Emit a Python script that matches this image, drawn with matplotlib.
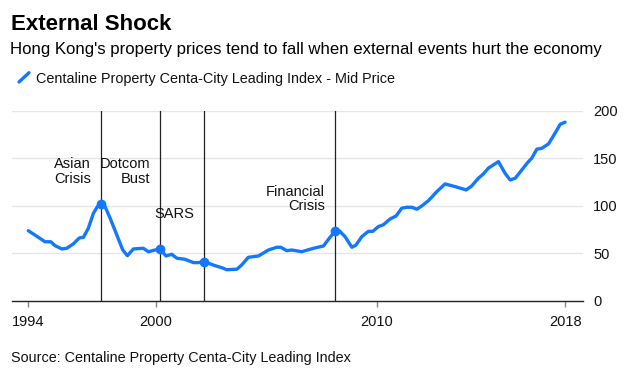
import numpy as np
import matplotlib.pyplot as plt
from matplotlib.lines import Line2D

# Centa-City Leading Index
years = [1994.21, 1994.97, 1995.23, 1995.42, 1995.73, 1995.95, 1996.25, 1996.52,
         1996.71, 1996.93, 1997.16, 1997.34, 1997.49, 1997.69, 1997.92, 1998.22,
         1998.49, 1998.70, 1998.97, 1999.42, 1999.65, 1999.95, 2000.18, 2000.45,
         2000.71, 2000.94, 2001.31, 2001.69, 2001.92, 2002.17, 2002.67, 2002.98,
         2003.20, 2003.66, 2003.88, 2004.18, 2004.64, 2005.09, 2005.47, 2005.65,
         2005.92, 2006.15, 2006.60, 2007.13, 2007.58, 2007.88, 2008.11, 2008.31,
         2008.56, 2008.87, 2009.06, 2009.32, 2009.62, 2009.82, 2010.07, 2010.30,
         2010.60, 2010.87, 2011.13, 2011.36, 2011.59, 2011.81, 2012.04, 2012.34,
         2012.72, 2013.09, 2013.55, 2014.05, 2014.30, 2014.60, 2014.83, 2015.05,
         2015.51, 2015.81, 2016.04, 2016.27, 2016.57, 2016.83, 2017.02, 2017.25,
         2017.48, 2017.78, 2018.03, 2018.31, 2018.53]
index = [73.7, 62.0, 62.0, 57.9, 54.4, 55.1, 59.7, 66.0,
         66.7, 76.2, 92.0, 99.0, 102.0, 99.0, 86.8, 69.2,
         53.3, 47.3, 54.4, 55.1, 51.5, 53.3, 54.0, 47.0,
         48.8, 44.6, 43.5, 40.0, 40.0, 41.0, 36.8, 34.6,
         32.5, 33.0, 37.5, 45.6, 47.0, 53.3, 56.2, 56.2,
         52.6, 53.3, 51.5, 55.1, 57.5, 66.7, 73.0, 73.4,
         67.4, 56.2, 58.6, 67.4, 73.0, 73.0, 78.0, 80.0,
         86.0, 89.2, 97.4, 98.4, 98.4, 96.3, 99.8, 105.4,
         114.9, 123.0, 120.2, 116.7, 120.9, 129.0, 133.6, 139.6,
         146.6, 134.3, 127.2, 129.0, 137.8, 145.5, 150.2, 159.7,
         160.7, 165.3, 174.8, 186.0, 188.2]

# events
event_x = [1997.49, 2000.18, 2002.17, 2008.11]
event_labels = ['Asian\nCrisis', 'Dotcom\nBust', 'SARS', 'Financial\nCrisis']
event_label_y = [151, 151, 99, 122]

xtick_pos = [years[0], 2000, 2010, years[-1]]
xtick_labels = ['1994', '2000', '2010', '2018']
yticks = [0, 50, 100, 150, 200]

blue = '#1478ff'
plt.rcParams['font.family'] = ['Liberation Sans', 'DejaVu Sans']

fig = plt.figure(figsize=(6.41, 3.83), dpi=100)
ax = fig.add_axes([0.0183, 0.2154, 0.8908, 0.4948])

for y in yticks[1:]:
    ax.axhline(y, color='#e6e6e6', lw=1, zorder=0)

ax.plot(years, index, color=blue, lw=2.4, solid_capstyle='round',
        solid_joinstyle='round', zorder=3)

ev_y = np.interp(event_x, years, index)
for x, lab, ly in zip(event_x, event_labels, event_label_y):
    ax.axvline(x, color='#222222', lw=0.9, zorder=2)
    ax.text(x - 0.45, ly, lab, ha='right', va='top', fontsize=10.5,
            multialignment='right', linespacing=1.05, color='#111111')
ax.plot(event_x, ev_y, 'o', color=blue, ms=6, zorder=4)

ax.set_xlim(1993.46, 2019.33)
ax.set_ylim(0, 200)
ax.set_xticks(xtick_pos)
ax.set_xticklabels(xtick_labels)
ax.set_yticks(yticks)
ax.yaxis.tick_right()
ax.tick_params(axis='y', length=0, pad=7.5, labelsize=10.5, labelcolor='#111111')
ax.tick_params(axis='x', length=4, width=1, color='#888888', pad=6.5,
               labelsize=10.5, labelcolor='#111111')
for s in ['top', 'left', 'right']:
    ax.spines[s].set_visible(False)
ax.spines['bottom'].set_color('#222222')
ax.spines['bottom'].set_linewidth(1)

W, H = 641, 383
fig.text(11 / W, 1 - 30 / H, 'External Shock', fontsize=16, fontweight='bold',
         va='baseline')
fig.text(10 / W, 1 - 54 / H, "Hong Kong's property prices tend to fall when external events hurt the economy",
         fontsize=12.1, va='baseline')
fig.add_artist(Line2D([19 / W, 29 / W], [1 - 82 / H, 1 - 72.7 / H], color=blue,
                      lw=2.4, solid_capstyle='round'))
fig.text(36.5 / W, 1 - 83.3 / H, 'Centaline Property Centa-City Leading Index - Mid Price',
         fontsize=10.4, va='baseline', color='#111111')
fig.text(11 / W, 1 - 361.7 / H, 'Source: Centaline Property Centa-City Leading Index',
         fontsize=10.4, va='baseline', color='#111111')

fig.savefig('out.png', dpi=100)
